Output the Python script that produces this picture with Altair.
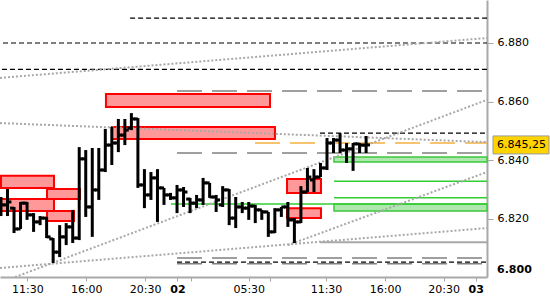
import altair as alt
import pandas as pd

# ---------------- data (M30 OHLC bars) ----------------
bar_open = [6.8220, 6.8248, 6.8237, 6.8166, 6.8254, 6.8214, 6.8190, 6.8203, 6.8132, 6.8087,
            6.8139, 6.8173, 6.8135, 6.8405, 6.8241, 6.8299, 6.8367, 6.8452, 6.8459, 6.8486,
            6.8510, 6.8541, 6.8316, 6.8282, 6.8340, 6.8306, 6.8282, 6.8272, 6.8299, 6.8268,
            6.8254, 6.8265, 6.8323, 6.8275, 6.8248, 6.8299, 6.8203, 6.8241, 6.8237, 6.8244,
            6.8231, 6.8224, 6.8156, 6.8231, 6.8241, 6.8197, 6.8190, 6.8292, 6.8333, 6.8343,
            6.8374, 6.8459, 6.8469, 6.8435, 6.8439, 6.8456, 6.8452]
bar_high = [6.8275, 6.8302, 6.8241, 6.8258, 6.8258, 6.8220, 6.8210, 6.8207, 6.8135, 6.8179,
            6.8186, 6.8231, 6.8445, 6.8435, 6.8442, 6.8442, 6.8507, 6.8514, 6.8541, 6.8541,
            6.8561, 6.8544, 6.8370, 6.8360, 6.8370, 6.8306, 6.8289, 6.8316, 6.8309, 6.8272,
            6.8282, 6.8340, 6.8323, 6.8282, 6.8312, 6.8302, 6.8275, 6.8258, 6.8258, 6.8248,
            6.8231, 6.8224, 6.8237, 6.8241, 6.8258, 6.8203, 6.8312, 6.8374, 6.8370, 6.8391,
            6.8476, 6.8476, 6.8493, 6.8459, 6.8459, 6.8459, 6.8483]
bar_low = [6.8210, 6.8210, 6.8152, 6.8166, 6.8197, 6.8156, 6.8179, 6.8135, 6.8050, 6.8070,
           6.8111, 6.8118, 6.8128, 6.8207, 6.8139, 6.8265, 6.8360, 6.8384, 6.8428, 6.8452,
           6.8503, 6.8306, 6.8237, 6.8265, 6.8190, 6.8248, 6.8265, 6.8220, 6.8241, 6.8220,
           6.8237, 6.8248, 6.8272, 6.8224, 6.8241, 6.8179, 6.8169, 6.8220, 6.8197, 6.8186,
           6.8197, 6.8139, 6.8152, 6.8207, 6.8173, 6.8118, 6.8186, 6.8292, 6.8292, 6.8343,
           6.8367, 6.8425, 6.8425, 6.8391, 6.8364, 6.8425, 6.8425]
bar_close = [6.8248, 6.8258, 6.8166, 6.8254, 6.8214, 6.8190, 6.8203, 6.8139, 6.8087, 6.8139,
             6.8173, 6.8135, 6.8405, 6.8241, 6.8299, 6.8367, 6.8452, 6.8459, 6.8486, 6.8503,
             6.8541, 6.8316, 6.8282, 6.8340, 6.8306, 6.8282, 6.8272, 6.8299, 6.8292, 6.8254,
             6.8265, 6.8323, 6.8275, 6.8265, 6.8299, 6.8203, 6.8241, 6.8237, 6.8244, 6.8231,
             6.8224, 6.8156, 6.8231, 6.8241, 6.8197, 6.8190, 6.8292, 6.8343, 6.8343, 6.8374,
             6.8459, 6.8469, 6.8435, 6.8439, 6.8456, 6.8452, 6.84525]

# supply zones (red) : bar-index start/end, top/bottom price
red_x1 = [0.0, 0.0, 7.06, 7.06, 16.1, 17.02, 43.87, 43.87]
red_x2 = [8.13, 8.13, 12.12, 11.2, 41.26, 42.02, 49.08, 49.08]
red_top = [6.8347, 6.8268, 6.8302, 6.8227, 6.8626, 6.8514, 6.8336, 6.8237]
red_bottom = [6.8306, 6.8227, 6.8268, 6.8193, 6.8582, 6.8473, 6.8289, 6.8203]

# demand zones (green)
green_x1 = [51.07, 51.07]
green_x2 = [74.54, 74.54]
green_top = [6.8411, 6.8251]
green_bottom = [6.8394, 6.8227]

# horizontal levels: start bar index and price (all run to the right edge)
black_dash_start = [19.8, 0.31, 0.15, 48.93, 27.0]
black_dash_price = [6.8885, 6.8800, 6.8710, 6.8493, 6.8053]
gray_dash_start = [27.0, 27.0, 27.0, 27.0]
gray_dash_price = [6.8636, 6.8425, 6.8067, 6.8047]
orange_dash_start = [38.96]
orange_dash_price = [6.8459]
green_line_start = [26.07, 51.07, 51.07]
green_line_price = [6.8251, 6.8329, 6.8272]
gray_line_start = [48.93]
gray_line_price = [6.8121]

# dotted trend lines
trend_x1 = [-0.15, -0.15, -0.15, 2.15, 44.0]
trend_y1 = [6.8681, 6.8527, 6.8033, 6.8002, 6.8111]
trend_x2 = [74.54, 74.54, 74.54, 74.54, 74.54]
trend_y2 = [6.8817, 6.8462, 6.8169, 6.8606, 6.8360]

# axis ticks
time_tick_pos = [4.05, 13.08, 22.1, 27.07, 29.1, 38.0, 41.2, 49.85, 58.9, 67.9, 72.8]
time_tick_lab = ["11:30", "16:00", "20:30", "02", "", "05:30", "", "11:30", "16:00", "20:30", "03"]
price_ticks = [6.82, 6.84, 6.86, 6.88]
bottom_price = 6.8026
bottom_price_label = "6.800"

X_DOMAIN = [-0.15, 74.54]
Y_DOMAIN = [6.80022, 6.89466]
RIGHT_EDGE = X_DOMAIN[1]

# ---------------- chart ----------------
FONT = "DejaVu Sans"
label_expr = " : ".join(f"datum.value == {p} ? '{l}'" for p, l in zip(time_tick_pos, time_tick_lab)) + " : ''"
bold_test = " || ".join(f"datum.value == {p}" for p, l in zip(time_tick_pos, time_tick_lab) if l and ":" not in l)

xscale = alt.Scale(domain=X_DOMAIN, nice=False, zero=False)
yscale = alt.Scale(domain=Y_DOMAIN, nice=False, zero=False)
xaxis = alt.Axis(values=time_tick_pos, labelExpr=label_expr, title=None, grid=False,
                 domainColor="#A8A8A8", domainWidth=2, tickColor="#A8A8A8", tickSize=4,
                 labelFont=FONT, labelFontSize=11, labelColor="black", labelPadding=2,
                 labelFlush=False, labelOverlap=False,
                 labelFontWeight={"condition": {"test": bold_test, "value": "bold"}, "value": "normal"})
yaxis = alt.Axis(orient="right", values=price_ticks, format=".3f", title=None, grid=False,
                 domainColor="#A8A8A8", domainWidth=2, tickColor="#A8A8A8", tickSize=6,
                 labelFont=FONT, labelFontSize=11, labelColor="black", labelPadding=4,
                 labelFlush=False, labelOverlap=False)


def X(f):
    return alt.X(f, type="quantitative", scale=xscale, axis=xaxis)


def Y(f):
    return alt.Y(f, type="quantitative", scale=yscale, axis=yaxis)


red_df = pd.DataFrame({"x": red_x1, "x2": red_x2, "y": red_top, "y2": red_bottom})
green_df = pd.DataFrame({"x": green_x1, "x2": green_x2, "y": green_top, "y2": green_bottom})

red = alt.Chart(red_df).mark_rect(fill="#FF9898", stroke="#FF0000", strokeWidth=2).encode(
    x=X("x"), x2="x2", y=Y("y"), y2="y2")
green = alt.Chart(green_df).mark_rect(fill="#AEE8AE", stroke="#3CC83C", strokeWidth=1.5).encode(
    x=X("x"), x2="x2", y=Y("y"), y2="y2")


def hlines(starts, prices, color, dash, width):
    df = pd.DataFrame({"x": starts, "x2": [RIGHT_EDGE] * len(starts), "y": prices})
    kw = dict(color=color, strokeWidth=width)
    if dash:
        kw["strokeDash"] = dash
    return alt.Chart(df).mark_rule(**kw).encode(x=X("x"), x2="x2", y=Y("y"))


lines = [
    hlines(green_line_start, green_line_price, "#33CC33", None, 1.5),
    hlines(gray_line_start, gray_line_price, "#A8A8A8", None, 2),
    hlines(gray_dash_start, gray_dash_price, "#808080", [25, 10], 1.5),
    hlines(orange_dash_start, orange_dash_price, "#F5B040", [25, 10], 1.5),
    hlines(black_dash_start, black_dash_price, "black", [5, 3], 1.2),
]

trend_df = pd.DataFrame({"x": trend_x1, "y": trend_y1, "x2": trend_x2, "y2": trend_y2})
trends = alt.Chart(trend_df).mark_rule(color="#A8A8A8", strokeWidth=2, strokeDash=[2, 2]).encode(
    x=X("x"), x2="x2", y=Y("y"), y2="y2")

bars_df = pd.DataFrame({"x": list(range(len(bar_open))), "o": bar_open, "h": bar_high,
                        "l": bar_low, "c": bar_close})
TICK = 0.6
hl = alt.Chart(bars_df).mark_rule(color="black", strokeWidth=3).encode(
    x=X("x"), y=Y("l"), y2="h")
opn = alt.Chart(bars_df).transform_calculate(xo=f"datum.x - {TICK}").mark_rule(
    color="black", strokeWidth=3).encode(x=X("xo"), x2="x", y=Y("o"))
cls = alt.Chart(bars_df).transform_calculate(xc=f"datum.x + {TICK}").mark_rule(
    color="black", strokeWidth=3).encode(x=X("x"), x2="xc", y=Y("c"))

last = bar_close[-1]
s = f"{last:.5f}"
price_df = pd.DataFrame({"p": [last], "t": [s[:5] + "," + s[5:]]})
pbox = alt.Chart(price_df).mark_rect(height=18, fill="#FFD400", stroke="#9A9A9A", strokeWidth=1).encode(
    x=alt.value(493), x2=alt.value(549), y=Y("p"))
ptext = alt.Chart(price_df).mark_text(align="left", baseline="middle", font=FONT, fontSize=11,
                                      color="black").encode(x=alt.value(497), y=Y("p"), text="t:N")

bottom_df = pd.DataFrame({"p": [bottom_price], "t": [bottom_price_label]})
btext = alt.Chart(bottom_df).mark_text(align="left", baseline="middle", font=FONT, fontSize=11,
                                       fontWeight="bold", color="black").encode(
    x=alt.value(497), y=Y("p"), text="t:N")

chart = alt.layer(red, green, *lines, trends, hl, opn, cls, pbox, ptext, btext).properties(
    width=487, height=277, autosize="none",
    padding={"left": 0, "top": 0, "right": 63, "bottom": 23},
    background="white",
).configure_view(stroke=None)

chart.save("out.html", embed_options={"renderer": "svg", "actions": False})
